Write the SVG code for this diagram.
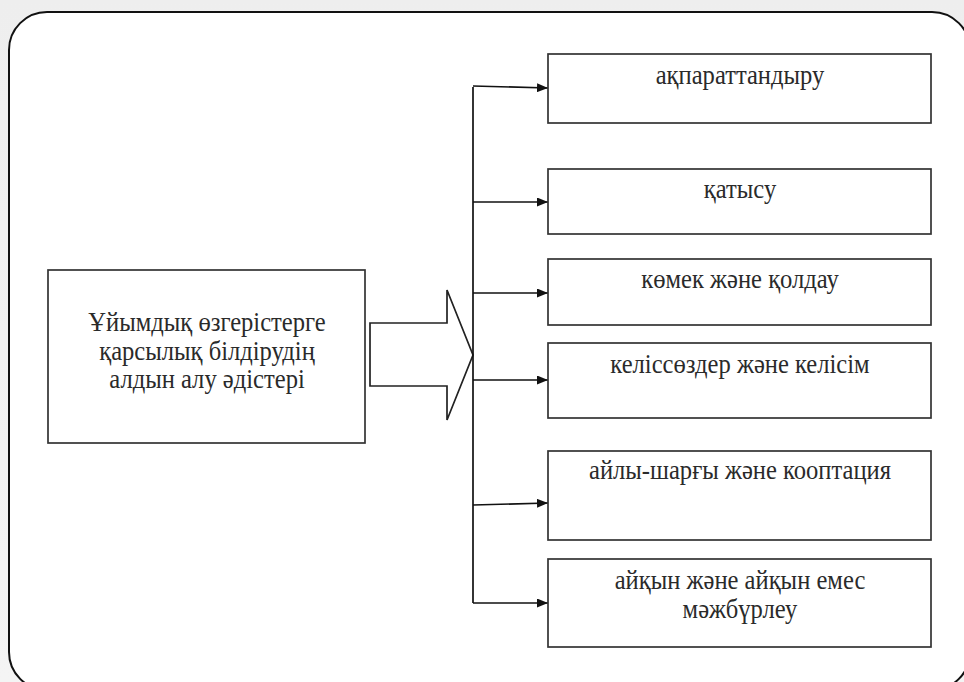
<svg xmlns="http://www.w3.org/2000/svg" width="964" height="682" viewBox="0 0 964 682">
<defs>
<style>
.box{fill:#fff;stroke:#333;stroke-width:1.7}
.t{font-family:"Liberation Serif","Times New Roman",serif;font-size:24.6px;fill:#2a2a2a;text-anchor:middle}
.c{fill:none;stroke:#111;stroke-width:1.7}
</style>
<marker id="ah" viewBox="0 0 11 9" refX="11" refY="4.5" markerWidth="11" markerHeight="9" markerUnits="userSpaceOnUse" orient="auto">
<path d="M0,0 L11,4.5 L0,9 Z" fill="#111"/>
</marker>
<linearGradient id="bg" x1="0" y1="0" x2="0" y2="1">
<stop offset="0" stop-color="#eeeeee"/>
<stop offset="1" stop-color="#f4f4f4"/>
</linearGradient>
</defs>
<rect x="0" y="0" width="964" height="682" fill="url(#bg)"/>
<rect id="frame" x="9" y="12" width="961" height="678" rx="38" ry="38" fill="#fff" stroke="#111" stroke-width="2"/>

<g id="source">
<rect class="box" x="48" y="270" width="317" height="173"/>
<text class="t" transform="translate(207,331) scale(1,1.1)">Ұйымдық өзгерістерге</text>
<text class="t" transform="translate(207,359.5) scale(1,1.1)">қарсылық білдірудің</text>
<text class="t" transform="translate(207,388) scale(1,1.1)">алдын алу әдістері</text>
</g>

<g id="bigarrow">
<path d="M370,323 L447,323 L447,290 L473,355 L447,420 L447,386 L370,386 Z" fill="#fff" stroke="#222" stroke-width="1.7"/>
</g>

<g id="connectors">
<path class="c" d="M473,87 L473,603"/>
<path class="c" d="M473,86 L548,88" marker-end="url(#ah)"/>
<path class="c" d="M473,202 L548,202" marker-end="url(#ah)"/>
<path class="c" d="M473,293 L548,293" marker-end="url(#ah)"/>
<path class="c" d="M473,380 L548,380" marker-end="url(#ah)"/>
<path class="c" d="M473,505 L548,503" marker-end="url(#ah)"/>
<path class="c" d="M473,603 L548,603" marker-end="url(#ah)"/>
</g>

<g id="n1">
<rect class="box" x="548" y="54" width="383" height="69"/>
<text class="t" transform="translate(740,84) scale(1,1.1)">ақпараттандыру</text>
</g>
<g id="n2">
<rect class="box" x="548" y="169" width="383" height="65"/>
<text class="t" transform="translate(740,198) scale(1,1.1)">қатысу</text>
</g>
<g id="n3">
<rect class="box" x="548" y="259" width="383" height="66"/>
<text class="t" transform="translate(740,288) scale(1,1.1)">көмек және қолдау</text>
</g>
<g id="n4">
<rect class="box" x="548" y="343" width="383" height="75"/>
<text class="t" transform="translate(740,373) scale(1,1.1)">келіссөздер және келісім</text>
</g>
<g id="n5">
<rect class="box" x="548" y="451" width="383" height="89"/>
<text class="t" transform="translate(740,479) scale(1,1.1)">айлы-шарғы және кооптация</text>
</g>
<g id="n6">
<rect class="box" x="548" y="559" width="383" height="88"/>
<text class="t" transform="translate(740,589) scale(1,1.1)">айқын және айқын емес</text>
<text class="t" transform="translate(740,618) scale(1,1.1)">мәжбүрлеу</text>
</g>
</svg>
